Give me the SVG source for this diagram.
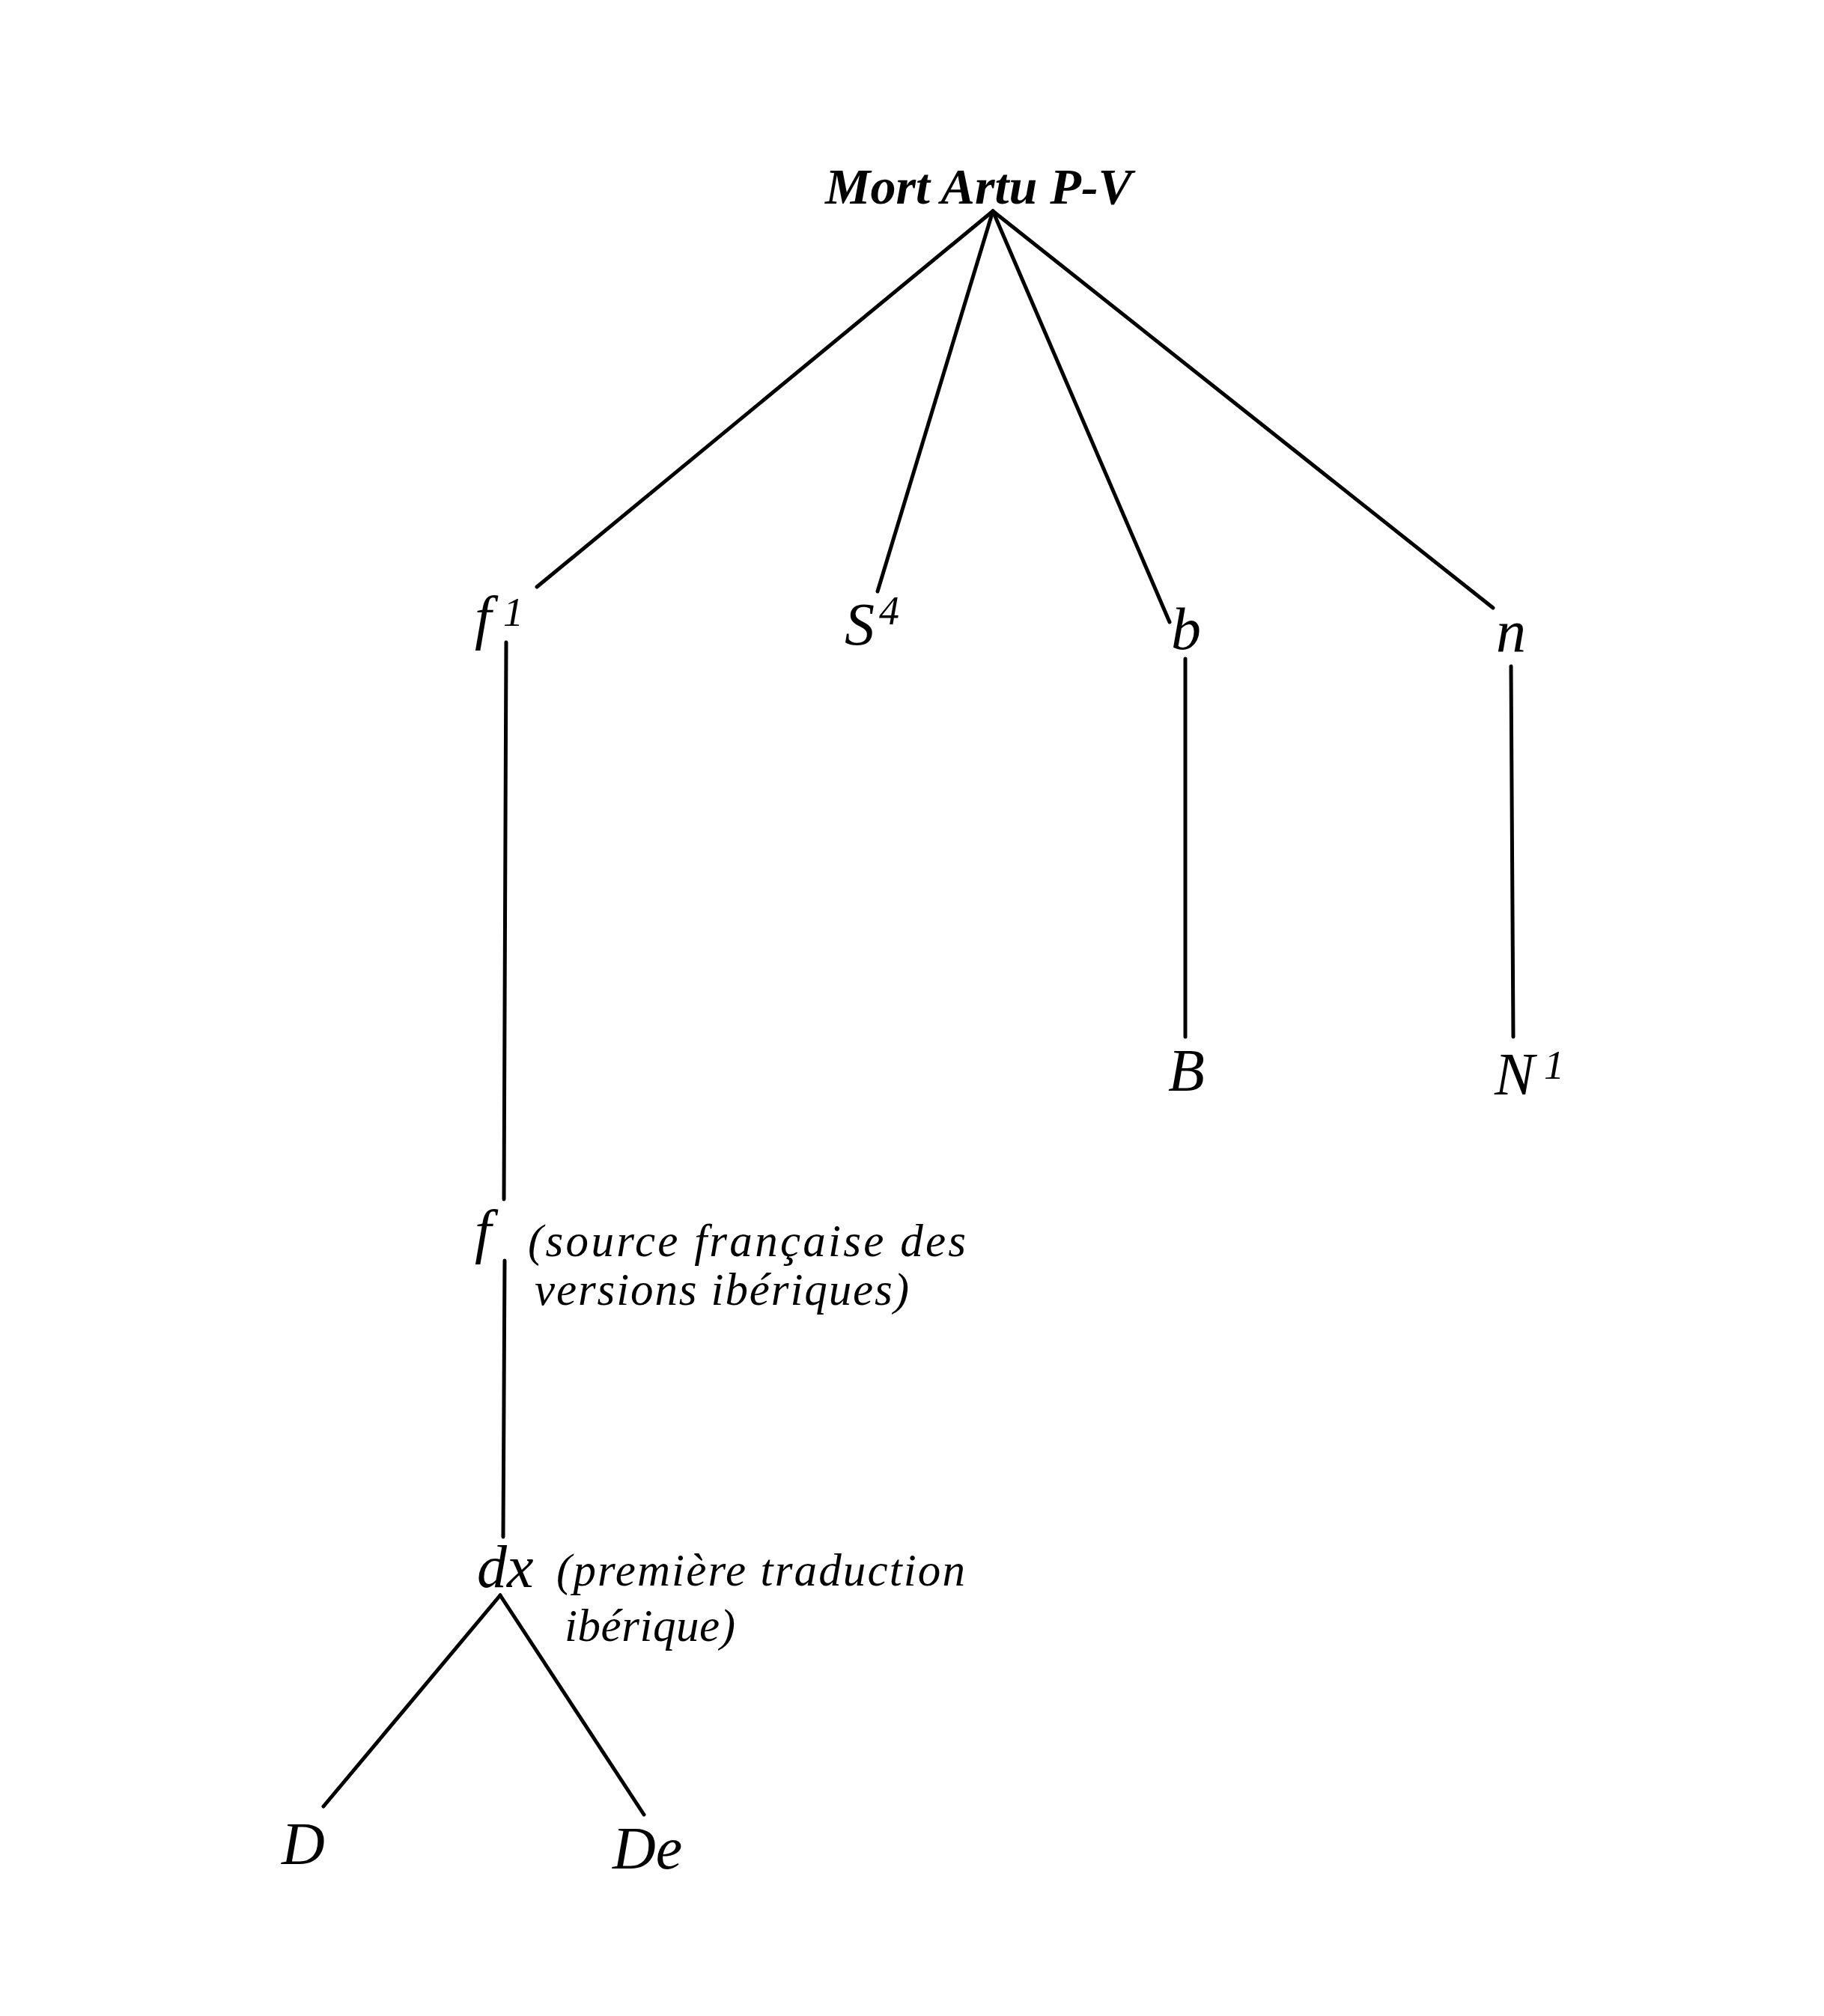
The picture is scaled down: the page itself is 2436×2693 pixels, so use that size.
<svg xmlns="http://www.w3.org/2000/svg" width="2436" height="2693" viewBox="0 0 2436 2693">
<style>
.lbl{font-family:"Liberation Serif","Times New Roman",serif;font-style:italic;font-size:80px;fill:#000}
.sup{font-family:"Liberation Serif","Times New Roman",serif;font-style:italic;font-size:54px;fill:#000}
.root{font-family:"Liberation Serif","Times New Roman",serif;font-style:italic;font-weight:bold;font-size:67px;fill:#000}
.ann{font-family:"Liberation Serif","Times New Roman",serif;font-style:italic;font-size:61px;fill:#000}
.edge{stroke:#000;stroke-width:5;fill:none;stroke-linecap:round}
</style>
<rect width="2436" height="2693" fill="#fff"/>
<g id="connectors">
<line class="edge" x1="1326" y1="282" x2="717" y2="784"/>
<line class="edge" x1="1326" y1="282" x2="1172" y2="790"/>
<line class="edge" x1="1326" y1="282" x2="1562" y2="831"/>
<line class="edge" x1="1326" y1="282" x2="1994" y2="812"/>
<line class="edge" x1="676" y1="858" x2="673" y2="1602"/>
<line class="edge" x1="1583" y1="880" x2="1583" y2="1385"/>
<line class="edge" x1="2018" y1="890" x2="2021" y2="1385"/>
<line class="edge" x1="674" y1="1684" x2="672" y2="2053"/>
<line class="edge" x1="668" y1="2131" x2="432" y2="2413"/>
<line class="edge" x1="668" y1="2131" x2="860" y2="2424"/>
</g>
<g id="node-root"><text class="root" x="1102" y="272" textLength="410" lengthAdjust="spacingAndGlyphs">Mort Artu P-V</text></g>
<g id="node-f1"><text class="lbl" x="634" y="852">f</text><text class="sup" x="672" y="836">1</text></g>
<g id="node-S4"><text class="lbl" x="1128" y="861">S</text><text class="sup" x="1174" y="834">4</text></g>
<g id="node-b"><text class="lbl" x="1564" y="867">b</text></g>
<g id="node-n"><text class="lbl" x="1998" y="870">n</text></g>
<g id="node-B"><text class="lbl" x="1560" y="1457">B</text></g>
<g id="node-N1"><text class="lbl" x="1996" y="1462">N</text><text class="sup" x="2062" y="1441">1</text></g>
<g id="node-f"><text class="lbl" x="634" y="1672">f</text>
<text class="ann" x="705" y="1678" textLength="585" lengthAdjust="spacing">(source française des</text>
<text class="ann" x="714" y="1743" textLength="500" lengthAdjust="spacing">versions ibériques)</text></g>
<g id="node-dx"><text class="lbl" x="637" y="2120">dx</text>
<text class="ann" x="743" y="2118" textLength="546" lengthAdjust="spacing">(première traduction</text>
<text class="ann" x="754" y="2192" textLength="228" lengthAdjust="spacing">ibérique)</text></g>
<g id="node-D"><text class="lbl" x="376" y="2490">D</text></g>
<g id="node-De"><text class="lbl" x="818" y="2496">De</text></g>
</svg>
